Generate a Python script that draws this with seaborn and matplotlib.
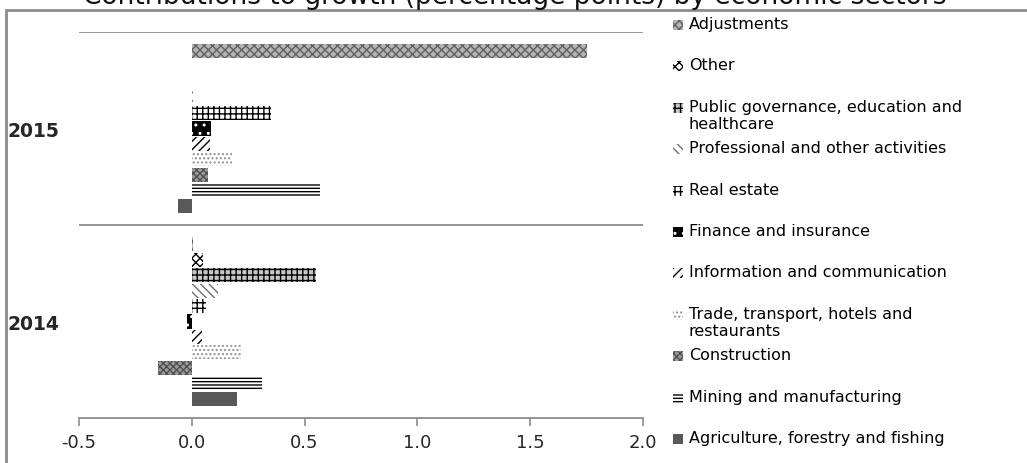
import matplotlib
matplotlib.use('Agg')
import matplotlib.pyplot as plt
import matplotlib.patches as mpatches
import seaborn as sns
import numpy as np
import pandas as pd

# ── data ──────────────────────────────────────────────────────
years = ['2015', '2014']
sectors = [
    'Adjustments',
    'Other',
    'Public governance, education and\nhealthcare',
    'Professional and other activities',
    'Real estate',
    'Finance and insurance',
    'Information and communication',
    'Trade, transport, hotels and\nrestaurants',
    'Construction',
    'Mining and manufacturing',
    'Agriculture, forestry and fishing',
]
values_2015 = [1.75, 0.0, 0.0, 0.005, 0.35, 0.085, 0.08, 0.18, 0.07, 0.57, -0.06]
values_2014 = [0.005, 0.05, 0.55, 0.115, 0.065, -0.02, 0.045, 0.22, -0.15, 0.31, 0.20]
x_ticks = [-0.5, 0.0, 0.5, 1.0, 1.5, 2.0]
title = 'Contributions to growth (percentage points) by economic sectors'

# face colour, hatch, hatch colour per sector
styles = {
    sectors[0]: ('#b4b4b4', 'xxxx', '#606060'),
    sectors[1]: ('white', 'xxxx', 'black'),
    sectors[2]: ('#c8c8c8', '+++', 'black'),
    sectors[3]: ('white', '\\\\\\\\', '#707070'),
    sectors[4]: ('white', '+++', 'black'),
    sectors[5]: ('black', '..', 'white'),
    sectors[6]: ('white', '////', 'black'),
    sectors[7]: ('white', '....', '#909090'),
    sectors[8]: ('#9a9a9a', 'xxxxx', '#505050'),
    sectors[9]: ('white', '-----', 'black'),
    sectors[10]: ('#595959', '', '#595959'),
}

df = pd.DataFrame({
    'year': np.repeat(years, len(sectors)),
    'sector': sectors * len(years),
    'value': values_2015 + values_2014,
})

sns.set_style('white')
plt.rcParams['font.family'] = ['DejaVu Sans']
plt.rcParams['hatch.linewidth'] = 1.0

W, H = 1027, 464
fig = plt.figure(figsize=(W / 100, H / 100), dpi=100)
ax = fig.add_axes([79 / W, 1 - 419 / H, (643 - 79) / W, (419 - 33) / H])

palette = {s: styles[s][0] for s in sectors}
sns.barplot(data=df, x='value', y='year', hue='sector', order=years,
            hue_order=sectors, palette=palette, orient='h', width=0.88,
            gap=0.08, saturation=1, errorbar=None, legend=False, ax=ax)

for cont, s in zip(ax.containers, sectors):
    face, hatch, hcol = styles[s]
    for p in cont:
        p.set_hatch(hatch)
        p.set_edgecolor(hcol)
        p.set_linewidth(0)

# category separators and axis
for yb in [-0.5, 0.5]:
    ax.axhline(yb, color='#8c8c8c', lw=1.3, zorder=0)
ax.set_xlim(x_ticks[0], x_ticks[-1])
ax.set_ylim(1.5, -0.5)
ax.set_xticks(x_ticks)
ax.set_xticklabels([f'{t:.1f}' for t in x_ticks], fontsize=13)
ax.tick_params(axis='x', length=6, width=1.2, color='#8c8c8c', pad=5,
               direction='out', bottom=True)
ax.tick_params(axis='y', length=0, pad=14)
for lbl in ax.get_yticklabels():
    lbl.set_fontweight('bold')
    lbl.set_fontsize(13.5)
ax.set_xlabel('')
ax.set_ylabel('')
for side in ['top', 'left', 'right']:
    ax.spines[side].set_visible(False)
ax.spines['bottom'].set_color('#8c8c8c')
ax.spines['bottom'].set_linewidth(1.3)
ax.patch.set_alpha(0)

# chart border (cropped at right and bottom)
fig.add_artist(mpatches.Rectangle((6 / W, -0.1), 1.2, 1.1 - 11 / H,
                                  transform=fig.transFigure, fill=False,
                                  edgecolor='#8c8c8c', lw=2))

# title, cut off at the top like the reference
fig.text(515 / W, 1 - 4 / H, title, ha='center', va='baseline',
         fontsize=19, color='#111111')

# legend, drawn entry by entry
slot0, step = 26, 41.4
for i, s in enumerate(sectors):
    face, hatch, hcol = styles[s]
    yc = slot0 + i * step
    fig.add_artist(mpatches.Rectangle((673 / W, 1 - (yc + 5) / H), 10 / W, 10 / H,
                                      transform=fig.transFigure,
                                      facecolor=face, hatch=hatch,
                                      edgecolor=hcol, lw=0))
    fig.text(689 / W, 1 - (yc - 9) / H, s, ha='left', va='top',
             fontsize=11.5, linespacing=1.15, color='black')

fig.savefig('out.png', dpi=100)
